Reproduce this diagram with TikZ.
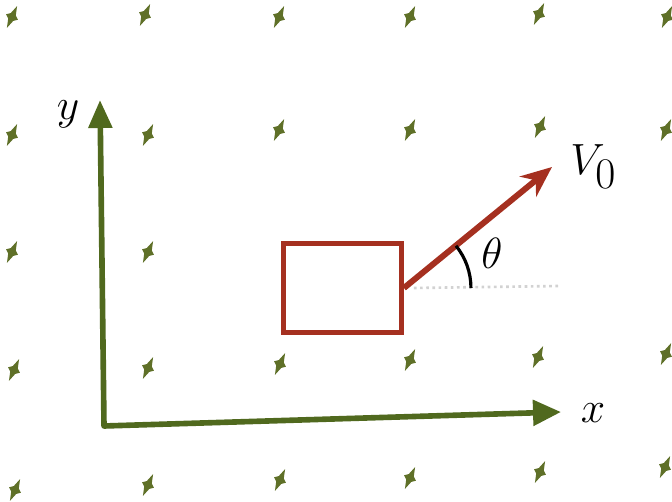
\documentclass[tikz,border=0pt]{standalone}
\usetikzlibrary{arrows.meta}

\definecolor{fieldgreen}{RGB}{95,112,40}
\definecolor{axisgreen}{RGB}{80,105,30}
\definecolor{blockred}{RGB}{165,48,32}

\tikzset{
    axisline/.style={axisgreen, line width=3.2pt, line join=round},
    block/.style={draw=blockred, line width=2.8pt, minimum width=2.36cm, minimum height=1.78cm, inner sep=0pt},
    velocity/.style={blockred, line width=3.4pt, -{Stealth[length=0.62cm, width=0.52cm]}},
    lab/.style={font=\fontsize{33}{38}\selectfont, inner sep=0pt},
}

\begin{document}
\begin{tikzpicture}[x=0.02cm, y=-0.02cm]

        \useasboundingbox (0,0) rectangle (672,502);

        % field out of the page
        \foreach \x/\y in {12/17, 145/15, 279/17, 410/17, 539/14, 667/17,
                           12/135, 148/135, 279/130, 410/130, 540/127, 666/130,
                           12/252, 148/252,
                           14/370, 148/368, 280/364, 410/360, 538/357, 666/354,
                           15/490, 148/485, 280/480, 410/478, 540/472, 665/467} {
            \fill[fieldgreen, shift={(\x,\y)}, rotate=-25] (0,-12) -- (2.8,-3) -- (6.5,0) -- (2.8,3) -- (0,12) -- (-2.8,3) -- (-6.5,0) -- (-2.8,-3) -- cycle;
        }

        \coordinate (O) at (104,426);
        \coordinate (ytip) at (100,100);
        \coordinate (xtip) at (561,412);
        \draw[axisline, {Triangle[length=0.56cm, width=0.46cm]}-{Triangle[length=0.56cm, width=0.5cm]}] (ytip) -- (O) -- (xtip);

        \node[lab] (ylab) at (68,114) {$y$};
        \node[lab] (xlab) at (593,413) {$x$};

        \node[block] (block) at (342.5,288) {};

        \coordinate (base) at (560,286);
        \draw[gray!35, dotted, line width=1.5pt] ([xshift=0.2cm]block.east) -- (base);

        \coordinate (vtip) at (552,167);
        \draw[velocity] (block.east) -- (vtip);
        \draw[line width=1.8pt] ([shift={(-39:67)}]block.east) arc[start angle=-39, end angle=0, radius=67];

        \node[lab, anchor=base west] (vlab) at (570,175) {$V_0$};
        \node[lab] (thlab) at (492,253) {$\theta$};

\end{tikzpicture}
\end{document}
